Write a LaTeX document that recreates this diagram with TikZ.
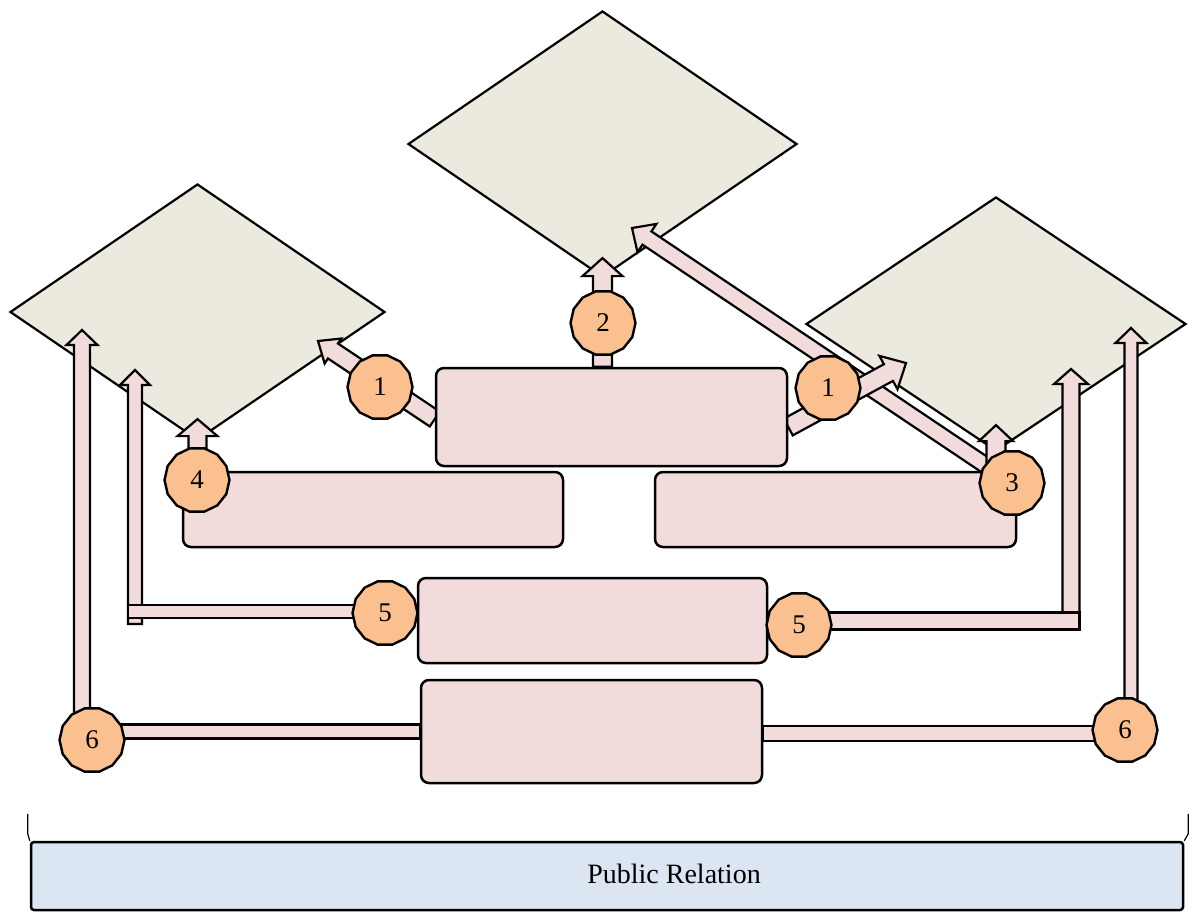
\documentclass[tikz,border=0pt]{standalone}
\usepackage{fontspec}
\setmainfont{Liberation Serif}
\usetikzlibrary{calc,shapes.geometric}

\definecolor{goalfill}{RGB}{236,234,223}
\definecolor{boxfill}{RGB}{242,220,219}
\definecolor{badgefill}{RGB}{250,192,144}
\definecolor{basefill}{RGB}{220,230,242}

\pgfdeclarelayer{back}
\pgfdeclarelayer{mid}
\pgfsetlayers{back,mid,main}

\tikzset{
  fsize/.code args={#1/#2/#3}{\def\flowshaft{#1}\def\flowhead{#2}\def\flowlen{#3}},
  fsize=7.5pt/15pt/15pt
}

\begin{document}
\begin{tikzpicture}[x=1pt, y=-1pt,
    goal/.style={draw, diamond, fill=goalfill, line width=2.2pt, inner sep=0pt},
    box/.style={draw, rectangle, rounded corners=8pt, fill=boxfill, line width=2.5pt, inner sep=0pt},
    badge/.style={draw, regular polygon, regular polygon sides=14, fill=badgefill, line width=2.4pt, minimum size=65pt, inner sep=0pt, font=\fontsize{27}{29}\selectfont},
    base/.style={draw, rectangle, rounded corners=3pt, fill=basefill, line width=2.5pt, inner sep=0pt},
    flow/.style={draw, fill=boxfill, line width=2.2pt, line join=miter,
      to path={($(\tikztotarget)!\flowlen!(\tikztostart)$) coordinate (fb)
        ($(\tikztostart)!\flowshaft!90:(\tikztotarget)$)
        -- ($(fb)!\flowshaft!90:(\tikztotarget)$)
        -- ($(fb)!\flowhead!90:(\tikztotarget)$)
        -- (\tikztotarget)
        -- ($(fb)!\flowhead!-90:(\tikztotarget)$)
        -- ($(fb)!\flowshaft!-90:(\tikztotarget)$)
        -- ($(\tikztostart)!\flowshaft!-90:(\tikztotarget)$) -- cycle}},
    bar/.style={draw, fill=boxfill, line width=2.2pt,
      to path={($(\tikztostart)!\flowshaft!90:(\tikztotarget)$)
        -- ($(\tikztotarget)!\flowshaft!-90:(\tikztostart)$)
        -- ($(\tikztotarget)!\flowshaft!90:(\tikztostart)$)
        -- ($(\tikztostart)!\flowshaft!-90:(\tikztotarget)$) -- cycle}}
  ]
    \useasboundingbox (0,0) rectangle (1193,911);

    % goals
    \begin{pgfonlayer}{back}
      \node[goal, minimum width=375pt, minimum height=256pt] (gl) at (197.5,312) {};
      \node[goal, minimum width=389pt, minimum height=266pt] (gt) at (602.5,144) {};
      \node[goal, minimum width=380pt, minimum height=254pt] (gr) at (996,324) {};
    \end{pgfonlayer}

    % boxes
    \node[box, minimum width=351pt, minimum height=98pt] (b1) at (611.5,417) {};
    \node[box, minimum width=380pt, minimum height=75pt] (b4) at (373,509.5) {};
    \node[box, minimum width=361pt, minimum height=75pt] (b3) at (835.5,509.5) {};
    \node[box, minimum width=349pt, minimum height=85pt] (b5) at (592.5,620.5) {};
    \node[box, minimum width=341pt, minimum height=103pt] (b6) at (591.5,731.5) {};
    \node[base, minimum width=1152pt, minimum height=68pt] (pr) at (607,876) {};
    \node[font=\fontsize{28}{30}\selectfont] (prlabel) at (674,874) {Public Relation};
    \draw[line width=1.2pt] (pr.north west) -- ++(-2,-7) -- ++(0,-20);
    \draw[line width=1.2pt] (pr.north east) -- ++(4,-7) -- ++(0,-20);

    % numbered badges
    \node[badge] (c1l) at (380,387) {1};
    \node[badge] (c2) at (603,323) {2};
    \node[badge] (c1r) at (828,388) {1};
    \node[badge] (c3) at (1012,483) {3};
    \node[badge] (c4) at (197,480) {4};
    \node[badge] (c5l) at (385,613) {5};
    \node[badge] (c5r) at (799,625) {5};
    \node[badge] (c6l) at (92,740) {6};
    \node[badge] (c6r) at (1125,730) {6};

    % arrow ends
    \coordinate (s1l) at ([yshift=-2pt]b1.west);
    \coordinate (t1l) at (318,341);
    \coordinate (s1r) at ([yshift=-10pt]b1.east);
    \coordinate (t1r) at (906,363);
    \coordinate (s2) at (b1.north -| gt.south);
    \coordinate (t2) at ([yshift=20pt]gt.south);
    \coordinate (s4) at (c4.center -| gl.south);
    \coordinate (t4) at ([yshift=22pt]gl.south);
    \coordinate (s3) at (c3.center -| gr.south);
    \coordinate (t3) at ([yshift=27pt]gr.south);
    \coordinate (t3t) at (632,228);
    \coordinate (k5l) at (135,624);
    \coordinate (t5l) at (135,370);
    \coordinate (s5l) at ([yshift=9pt]b5.west);
    \coordinate (e5l) at (128,611.5);
    \coordinate (k5r) at (1071,629);
    \coordinate (t5r) at (1071,369);
    \coordinate (s5r) at ([yshift=-0.5pt]b5.east);
    \coordinate (e5r) at (1079.5,621);
    \coordinate (k6l) at (82,738);
    \coordinate (t6l) at (82,330);
    \coordinate (e6l) at (b6.west -| c6l);
    \coordinate (k6r) at (1131,722);
    \coordinate (t6r) at (1131,328);
    \coordinate (s6r) at ([yshift=-2pt]b6.east);
    \coordinate (e6r) at (1125,733.5);

    \begin{pgfonlayer}{mid}
      \draw[flow, fsize=8pt/17pt/18pt] (c3) to (t3t);
      \draw[flow, fsize=9pt/15pt/18pt] (s1l) to (t1l);
      \draw[flow, fsize=9.5pt/19pt/20pt] (s1r) to (t1r);
      \draw[flow, fsize=9.5pt/20pt/18pt] (s2) to (t2);
      \draw[flow, fsize=9pt/20pt/17pt] (s4) to (t4);
      \draw[flow, fsize=9.5pt/17pt/16pt] (s3) to (t3);
      \draw[flow, fsize=7pt/15pt/15pt] (k5l) to (t5l);
      \draw[bar, fsize=6.5pt/0pt/0pt] (s5l) to (e5l);
      \draw[flow, fsize=8.5pt/17pt/15pt] (k5r) to (t5r);
      \draw[bar, fsize=8.5pt/0pt/0pt] (s5r) to (e5r);
      \draw[flow, fsize=8pt/15.5pt/15pt] (k6l) to (t6l);
      \draw[bar, fsize=7pt/0pt/0pt] (b6.west) to (e6l);
      \draw[flow, fsize=6.5pt/15.5pt/15pt] (k6r) to (t6r);
      \draw[bar, fsize=7.5pt/0pt/0pt] (s6r) to (e6r);
    \end{pgfonlayer}
\end{tikzpicture}
\end{document}
